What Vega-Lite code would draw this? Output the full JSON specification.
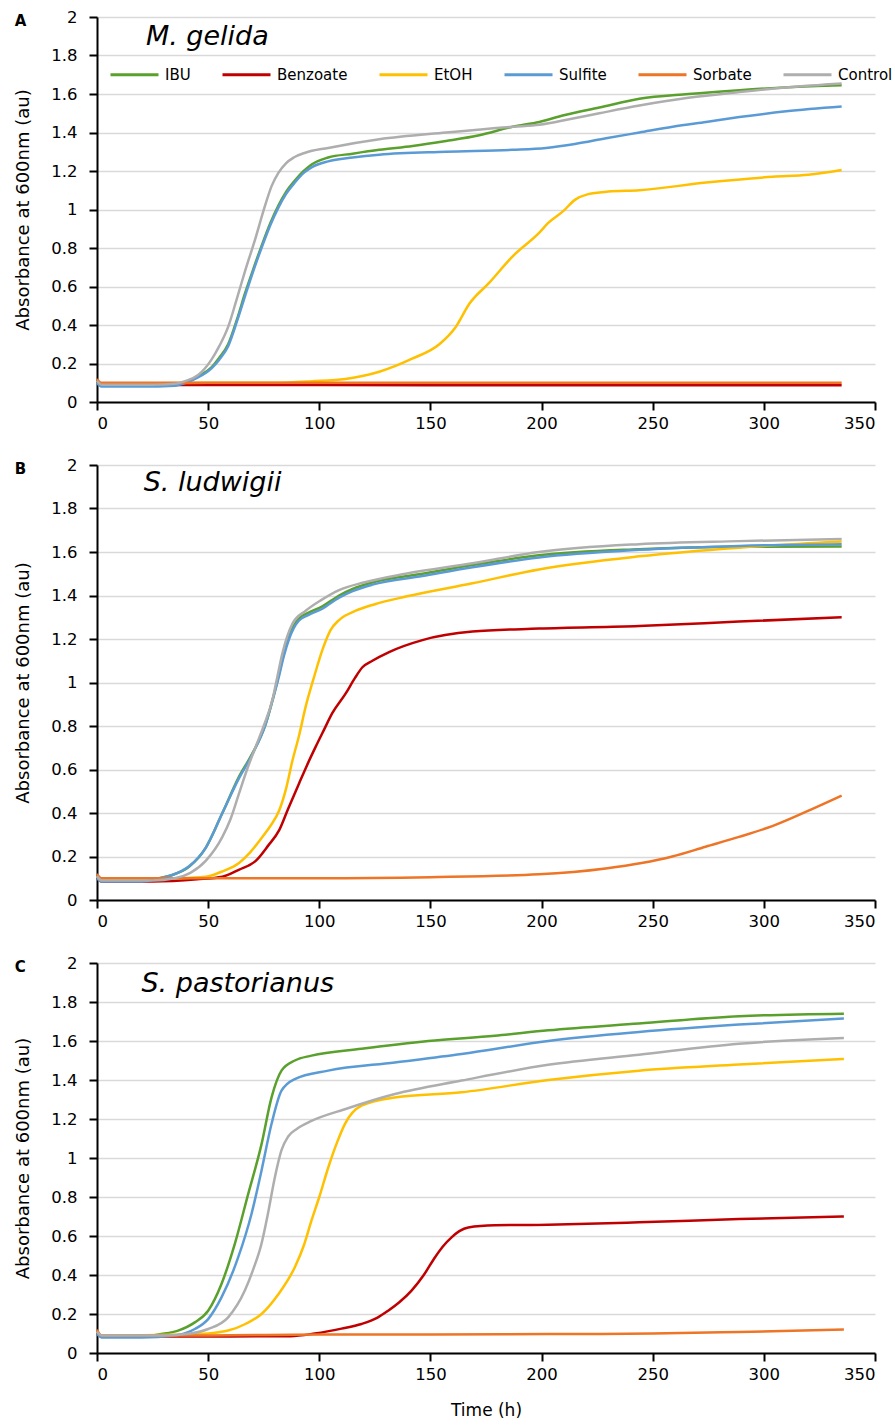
{
"$schema": "https://vega.github.io/schema/vega-lite/v6.json",
"background": "white",
"padding": {"left": 14, "top": 9, "right": 2, "bottom": 4},
"config": {
  "font": "DejaVu Sans",
  "view": {"stroke": null},
  "concat": {"spacing": 25},
  "axis": {"labelFont": "DejaVu Sans", "labelFontSize": 16.5, "labelColor": "#000", "labelOverlap": false, "titleFont": "DejaVu Sans", "titleFontSize": 18, "titleFontWeight": "normal", "titleColor": "#000", "domainColor": "#000", "domainWidth": 2, "tickColor": "#000", "tickWidth": 2, "tickSize": 8},
  "axisY": {"grid": true, "gridColor": "#D9D9D9", "gridWidth": 1.5, "labelPadding": 12, "titlePadding": 18},
  "axisX": {"grid": false, "labelPadding": 5},
  "title": {"font": "DejaVu Sans", "fontSize": 15, "fontWeight": "bold", "anchor": "start", "frame": "bounds", "offset": -20, "baseline": "top", "color": "#000"}
},
"datasets": {
"curves": [
{"p":"A","s":"IBU","t":0,"v":0.11},{"p":"A","s":"IBU","t":2,"v":0.085},{"p":"A","s":"IBU","t":20,"v":0.085},{"p":"A","s":"IBU","t":35,"v":0.09},{"p":"A","s":"IBU","t":40,"v":0.1},{"p":"A","s":"IBU","t":45,"v":0.13},{"p":"A","s":"IBU","t":51.5,"v":0.18},{"p":"A","s":"IBU","t":55,"v":0.23},{"p":"A","s":"IBU","t":59,"v":0.3},{"p":"A","s":"IBU","t":63,"v":0.43},{"p":"A","s":"IBU","t":66.6,"v":0.565},{"p":"A","s":"IBU","t":70,"v":0.68},{"p":"A","s":"IBU","t":74,"v":0.81},{"p":"A","s":"IBU","t":78,"v":0.93},{"p":"A","s":"IBU","t":81.6,"v":1.02},{"p":"A","s":"IBU","t":85,"v":1.09},{"p":"A","s":"IBU","t":89,"v":1.15},{"p":"A","s":"IBU","t":93,"v":1.2},{"p":"A","s":"IBU","t":96.7,"v":1.235},{"p":"A","s":"IBU","t":104,"v":1.27},{"p":"A","s":"IBU","t":115,"v":1.29},{"p":"A","s":"IBU","t":127,"v":1.31},{"p":"A","s":"IBU","t":142,"v":1.33},{"p":"A","s":"IBU","t":157,"v":1.356},{"p":"A","s":"IBU","t":172,"v":1.386},{"p":"A","s":"IBU","t":187,"v":1.43},{"p":"A","s":"IBU","t":199,"v":1.455},{"p":"A","s":"IBU","t":210,"v":1.49},{"p":"A","s":"IBU","t":226,"v":1.53},{"p":"A","s":"IBU","t":244,"v":1.575},{"p":"A","s":"IBU","t":266,"v":1.6},{"p":"A","s":"IBU","t":289,"v":1.62},{"p":"A","s":"IBU","t":311,"v":1.635},{"p":"A","s":"IBU","t":335,"v":1.645},
{"p":"A","s":"Benzoate","t":0,"v":0.11},{"p":"A","s":"Benzoate","t":2,"v":0.088},{"p":"A","s":"Benzoate","t":100,"v":0.088},{"p":"A","s":"Benzoate","t":200,"v":0.087},{"p":"A","s":"Benzoate","t":335,"v":0.087},
{"p":"A","s":"EtOH","t":0,"v":0.11},{"p":"A","s":"EtOH","t":2,"v":0.095},{"p":"A","s":"EtOH","t":50,"v":0.1},{"p":"A","s":"EtOH","t":80,"v":0.1},{"p":"A","s":"EtOH","t":96.7,"v":0.108},{"p":"A","s":"EtOH","t":111.7,"v":0.12},{"p":"A","s":"EtOH","t":127,"v":0.157},{"p":"A","s":"EtOH","t":142,"v":0.226},{"p":"A","s":"EtOH","t":154,"v":0.3},{"p":"A","s":"EtOH","t":161.4,"v":0.39},{"p":"A","s":"EtOH","t":167.5,"v":0.51},{"p":"A","s":"EtOH","t":176.5,"v":0.62},{"p":"A","s":"EtOH","t":187,"v":0.757},{"p":"A","s":"EtOH","t":199,"v":0.88},{"p":"A","s":"EtOH","t":203,"v":0.93},{"p":"A","s":"EtOH","t":209.6,"v":0.99},{"p":"A","s":"EtOH","t":215,"v":1.05},{"p":"A","s":"EtOH","t":221,"v":1.08},{"p":"A","s":"EtOH","t":230,"v":1.093},{"p":"A","s":"EtOH","t":244,"v":1.1},{"p":"A","s":"EtOH","t":274,"v":1.14},{"p":"A","s":"EtOH","t":304,"v":1.17},{"p":"A","s":"EtOH","t":320,"v":1.18},{"p":"A","s":"EtOH","t":335,"v":1.205},
{"p":"A","s":"Sulfite","t":0,"v":0.1},{"p":"A","s":"Sulfite","t":2,"v":0.08},{"p":"A","s":"Sulfite","t":20,"v":0.08},{"p":"A","s":"Sulfite","t":35,"v":0.085},{"p":"A","s":"Sulfite","t":40,"v":0.1},{"p":"A","s":"Sulfite","t":45,"v":0.125},{"p":"A","s":"Sulfite","t":51.5,"v":0.175},{"p":"A","s":"Sulfite","t":55,"v":0.22},{"p":"A","s":"Sulfite","t":59,"v":0.29},{"p":"A","s":"Sulfite","t":63,"v":0.42},{"p":"A","s":"Sulfite","t":66.6,"v":0.55},{"p":"A","s":"Sulfite","t":70,"v":0.67},{"p":"A","s":"Sulfite","t":74,"v":0.8},{"p":"A","s":"Sulfite","t":78,"v":0.92},{"p":"A","s":"Sulfite","t":81.6,"v":1.01},{"p":"A","s":"Sulfite","t":85,"v":1.08},{"p":"A","s":"Sulfite","t":89,"v":1.14},{"p":"A","s":"Sulfite","t":93,"v":1.19},{"p":"A","s":"Sulfite","t":96.7,"v":1.22},{"p":"A","s":"Sulfite","t":104,"v":1.25},{"p":"A","s":"Sulfite","t":115,"v":1.27},{"p":"A","s":"Sulfite","t":127,"v":1.285},{"p":"A","s":"Sulfite","t":157,"v":1.3},{"p":"A","s":"Sulfite","t":187,"v":1.31},{"p":"A","s":"Sulfite","t":202,"v":1.32},{"p":"A","s":"Sulfite","t":215,"v":1.34},{"p":"A","s":"Sulfite","t":229,"v":1.37},{"p":"A","s":"Sulfite","t":244,"v":1.4},{"p":"A","s":"Sulfite","t":259,"v":1.43},{"p":"A","s":"Sulfite","t":274,"v":1.455},{"p":"A","s":"Sulfite","t":289,"v":1.48},{"p":"A","s":"Sulfite","t":310,"v":1.51},{"p":"A","s":"Sulfite","t":335,"v":1.535},
{"p":"A","s":"Sorbate","t":0,"v":0.12},{"p":"A","s":"Sorbate","t":2,"v":0.1},{"p":"A","s":"Sorbate","t":100,"v":0.1},{"p":"A","s":"Sorbate","t":200,"v":0.1},{"p":"A","s":"Sorbate","t":335,"v":0.1},
{"p":"A","s":"Control","t":0,"v":0.11},{"p":"A","s":"Control","t":2,"v":0.09},{"p":"A","s":"Control","t":25,"v":0.09},{"p":"A","s":"Control","t":35,"v":0.095},{"p":"A","s":"Control","t":40,"v":0.11},{"p":"A","s":"Control","t":45.5,"v":0.14},{"p":"A","s":"Control","t":51.5,"v":0.22},{"p":"A","s":"Control","t":55,"v":0.29},{"p":"A","s":"Control","t":59,"v":0.39},{"p":"A","s":"Control","t":63,"v":0.54},{"p":"A","s":"Control","t":66.6,"v":0.68},{"p":"A","s":"Control","t":71,"v":0.84},{"p":"A","s":"Control","t":75.6,"v":1.02},{"p":"A","s":"Control","t":78.5,"v":1.12},{"p":"A","s":"Control","t":81.6,"v":1.19},{"p":"A","s":"Control","t":85,"v":1.24},{"p":"A","s":"Control","t":88.5,"v":1.27},{"p":"A","s":"Control","t":93.7,"v":1.295},{"p":"A","s":"Control","t":104,"v":1.32},{"p":"A","s":"Control","t":127,"v":1.365},{"p":"A","s":"Control","t":157,"v":1.4},{"p":"A","s":"Control","t":187,"v":1.43},{"p":"A","s":"Control","t":199,"v":1.44},{"p":"A","s":"Control","t":213,"v":1.47},{"p":"A","s":"Control","t":226,"v":1.5},{"p":"A","s":"Control","t":244,"v":1.54},{"p":"A","s":"Control","t":266,"v":1.58},{"p":"A","s":"Control","t":289,"v":1.61},{"p":"A","s":"Control","t":311,"v":1.635},{"p":"A","s":"Control","t":335,"v":1.655},

{"p":"B","s":"IBU","t":0,"v":0.11},{"p":"B","s":"IBU","t":2,"v":0.09},{"p":"B","s":"IBU","t":20,"v":0.09},{"p":"B","s":"IBU","t":28,"v":0.1},{"p":"B","s":"IBU","t":33.9,"v":0.115},{"p":"B","s":"IBU","t":41.4,"v":0.153},{"p":"B","s":"IBU","t":48.9,"v":0.24},{"p":"B","s":"IBU","t":56.4,"v":0.4},{"p":"B","s":"IBU","t":63.9,"v":0.567},{"p":"B","s":"IBU","t":69.9,"v":0.674},{"p":"B","s":"IBU","t":75.9,"v":0.81},{"p":"B","s":"IBU","t":79,"v":0.92},{"p":"B","s":"IBU","t":81.9,"v":1.04},{"p":"B","s":"IBU","t":84,"v":1.13},{"p":"B","s":"IBU","t":86.4,"v":1.21},{"p":"B","s":"IBU","t":88.5,"v":1.26},{"p":"B","s":"IBU","t":90.9,"v":1.295},{"p":"B","s":"IBU","t":95,"v":1.32},{"p":"B","s":"IBU","t":101.4,"v":1.35},{"p":"B","s":"IBU","t":108.9,"v":1.4},{"p":"B","s":"IBU","t":115,"v":1.43},{"p":"B","s":"IBU","t":123.9,"v":1.46},{"p":"B","s":"IBU","t":146.4,"v":1.5},{"p":"B","s":"IBU","t":168.9,"v":1.54},{"p":"B","s":"IBU","t":198.8,"v":1.585},{"p":"B","s":"IBU","t":243.8,"v":1.613},{"p":"B","s":"IBU","t":288.8,"v":1.624},{"p":"B","s":"IBU","t":335,"v":1.625},
{"p":"B","s":"Benzoate","t":0,"v":0.1},{"p":"B","s":"Benzoate","t":2,"v":0.085},{"p":"B","s":"Benzoate","t":25,"v":0.085},{"p":"B","s":"Benzoate","t":45,"v":0.095},{"p":"B","s":"Benzoate","t":56.4,"v":0.107},{"p":"B","s":"Benzoate","t":64,"v":0.14},{"p":"B","s":"Benzoate","t":71.4,"v":0.18},{"p":"B","s":"Benzoate","t":77,"v":0.25},{"p":"B","s":"Benzoate","t":81.9,"v":0.32},{"p":"B","s":"Benzoate","t":86,"v":0.42},{"p":"B","s":"Benzoate","t":90.9,"v":0.536},{"p":"B","s":"Benzoate","t":94.5,"v":0.62},{"p":"B","s":"Benzoate","t":98.4,"v":0.705},{"p":"B","s":"Benzoate","t":102,"v":0.78},{"p":"B","s":"Benzoate","t":105.9,"v":0.86},{"p":"B","s":"Benzoate","t":111.9,"v":0.95},{"p":"B","s":"Benzoate","t":116,"v":1.02},{"p":"B","s":"Benzoate","t":119.4,"v":1.07},{"p":"B","s":"Benzoate","t":123.9,"v":1.1},{"p":"B","s":"Benzoate","t":131.4,"v":1.14},{"p":"B","s":"Benzoate","t":146.4,"v":1.195},{"p":"B","s":"Benzoate","t":168.9,"v":1.234},{"p":"B","s":"Benzoate","t":198.8,"v":1.248},{"p":"B","s":"Benzoate","t":243.8,"v":1.26},{"p":"B","s":"Benzoate","t":288.8,"v":1.28},{"p":"B","s":"Benzoate","t":335,"v":1.3},
{"p":"B","s":"EtOH","t":0,"v":0.11},{"p":"B","s":"EtOH","t":2,"v":0.095},{"p":"B","s":"EtOH","t":35,"v":0.1},{"p":"B","s":"EtOH","t":48.9,"v":0.107},{"p":"B","s":"EtOH","t":56,"v":0.13},{"p":"B","s":"EtOH","t":63.9,"v":0.17},{"p":"B","s":"EtOH","t":69,"v":0.22},{"p":"B","s":"EtOH","t":74.4,"v":0.29},{"p":"B","s":"EtOH","t":78,"v":0.34},{"p":"B","s":"EtOH","t":81.9,"v":0.41},{"p":"B","s":"EtOH","t":85,"v":0.51},{"p":"B","s":"EtOH","t":87.9,"v":0.64},{"p":"B","s":"EtOH","t":91,"v":0.76},{"p":"B","s":"EtOH","t":93.9,"v":0.89},{"p":"B","s":"EtOH","t":97.5,"v":1.02},{"p":"B","s":"EtOH","t":101.4,"v":1.15},{"p":"B","s":"EtOH","t":105,"v":1.24},{"p":"B","s":"EtOH","t":108.9,"v":1.287},{"p":"B","s":"EtOH","t":116.4,"v":1.33},{"p":"B","s":"EtOH","t":125,"v":1.36},{"p":"B","s":"EtOH","t":138.9,"v":1.395},{"p":"B","s":"EtOH","t":168.9,"v":1.456},{"p":"B","s":"EtOH","t":198.8,"v":1.52},{"p":"B","s":"EtOH","t":243.8,"v":1.58},{"p":"B","s":"EtOH","t":288.8,"v":1.62},{"p":"B","s":"EtOH","t":335,"v":1.648},
{"p":"B","s":"Sulfite","t":0,"v":0.1},{"p":"B","s":"Sulfite","t":2,"v":0.085},{"p":"B","s":"Sulfite","t":20,"v":0.085},{"p":"B","s":"Sulfite","t":28,"v":0.1},{"p":"B","s":"Sulfite","t":33.9,"v":0.115},{"p":"B","s":"Sulfite","t":41.4,"v":0.155},{"p":"B","s":"Sulfite","t":48.9,"v":0.24},{"p":"B","s":"Sulfite","t":56.4,"v":0.4},{"p":"B","s":"Sulfite","t":63.9,"v":0.56},{"p":"B","s":"Sulfite","t":69.9,"v":0.67},{"p":"B","s":"Sulfite","t":75.9,"v":0.81},{"p":"B","s":"Sulfite","t":79,"v":0.92},{"p":"B","s":"Sulfite","t":81.9,"v":1.03},{"p":"B","s":"Sulfite","t":84,"v":1.12},{"p":"B","s":"Sulfite","t":86.4,"v":1.2},{"p":"B","s":"Sulfite","t":88.5,"v":1.25},{"p":"B","s":"Sulfite","t":90.9,"v":1.285},{"p":"B","s":"Sulfite","t":95,"v":1.31},{"p":"B","s":"Sulfite","t":101.4,"v":1.34},{"p":"B","s":"Sulfite","t":108.9,"v":1.39},{"p":"B","s":"Sulfite","t":115,"v":1.42},{"p":"B","s":"Sulfite","t":123.9,"v":1.45},{"p":"B","s":"Sulfite","t":146.4,"v":1.49},{"p":"B","s":"Sulfite","t":168.9,"v":1.53},{"p":"B","s":"Sulfite","t":198.8,"v":1.575},{"p":"B","s":"Sulfite","t":243.8,"v":1.61},{"p":"B","s":"Sulfite","t":288.8,"v":1.628},{"p":"B","s":"Sulfite","t":335,"v":1.636},
{"p":"B","s":"Sorbate","t":0,"v":0.12},{"p":"B","s":"Sorbate","t":2,"v":0.1},{"p":"B","s":"Sorbate","t":50,"v":0.1},{"p":"B","s":"Sorbate","t":100,"v":0.1},{"p":"B","s":"Sorbate","t":150,"v":0.105},{"p":"B","s":"Sorbate","t":198.8,"v":0.118},{"p":"B","s":"Sorbate","t":228.8,"v":0.145},{"p":"B","s":"Sorbate","t":245,"v":0.17},{"p":"B","s":"Sorbate","t":258.8,"v":0.2},{"p":"B","s":"Sorbate","t":273.8,"v":0.245},{"p":"B","s":"Sorbate","t":288.8,"v":0.29},{"p":"B","s":"Sorbate","t":303.8,"v":0.34},{"p":"B","s":"Sorbate","t":318.8,"v":0.405},{"p":"B","s":"Sorbate","t":335,"v":0.48},
{"p":"B","s":"Control","t":0,"v":0.11},{"p":"B","s":"Control","t":2,"v":0.09},{"p":"B","s":"Control","t":25,"v":0.09},{"p":"B","s":"Control","t":35,"v":0.1},{"p":"B","s":"Control","t":42,"v":0.125},{"p":"B","s":"Control","t":48.9,"v":0.18},{"p":"B","s":"Control","t":56.4,"v":0.29},{"p":"B","s":"Control","t":60,"v":0.37},{"p":"B","s":"Control","t":63.9,"v":0.49},{"p":"B","s":"Control","t":67.5,"v":0.6},{"p":"B","s":"Control","t":71.4,"v":0.705},{"p":"B","s":"Control","t":75,"v":0.8},{"p":"B","s":"Control","t":78.9,"v":0.92},{"p":"B","s":"Control","t":81,"v":1.02},{"p":"B","s":"Control","t":83.4,"v":1.134},{"p":"B","s":"Control","t":85.5,"v":1.21},{"p":"B","s":"Control","t":87.9,"v":1.27},{"p":"B","s":"Control","t":93.9,"v":1.33},{"p":"B","s":"Control","t":101,"v":1.38},{"p":"B","s":"Control","t":108.9,"v":1.425},{"p":"B","s":"Control","t":120,"v":1.46},{"p":"B","s":"Control","t":138.9,"v":1.5},{"p":"B","s":"Control","t":168.9,"v":1.548},{"p":"B","s":"Control","t":198.8,"v":1.6},{"p":"B","s":"Control","t":243.8,"v":1.636},{"p":"B","s":"Control","t":288.8,"v":1.65},{"p":"B","s":"Control","t":335,"v":1.66},

{"p":"C","s":"IBU","t":0,"v":0.11},{"p":"C","s":"IBU","t":2,"v":0.085},{"p":"C","s":"IBU","t":20,"v":0.085},{"p":"C","s":"IBU","t":29,"v":0.097},{"p":"C","s":"IBU","t":36.5,"v":0.115},{"p":"C","s":"IBU","t":44,"v":0.157},{"p":"C","s":"IBU","t":50,"v":0.217},{"p":"C","s":"IBU","t":56,"v":0.354},{"p":"C","s":"IBU","t":62,"v":0.56},{"p":"C","s":"IBU","t":68,"v":0.815},{"p":"C","s":"IBU","t":74,"v":1.07},{"p":"C","s":"IBU","t":78.5,"v":1.31},{"p":"C","s":"IBU","t":83,"v":1.448},{"p":"C","s":"IBU","t":89,"v":1.5},{"p":"C","s":"IBU","t":96.5,"v":1.525},{"p":"C","s":"IBU","t":119,"v":1.56},{"p":"C","s":"IBU","t":149,"v":1.6},{"p":"C","s":"IBU","t":179,"v":1.627},{"p":"C","s":"IBU","t":203,"v":1.655},{"p":"C","s":"IBU","t":243.8,"v":1.69},{"p":"C","s":"IBU","t":288.8,"v":1.727},{"p":"C","s":"IBU","t":336,"v":1.74},
{"p":"C","s":"Benzoate","t":0,"v":0.1},{"p":"C","s":"Benzoate","t":2,"v":0.085},{"p":"C","s":"Benzoate","t":60,"v":0.085},{"p":"C","s":"Benzoate","t":87,"v":0.086},{"p":"C","s":"Benzoate","t":98,"v":0.1},{"p":"C","s":"Benzoate","t":110,"v":0.125},{"p":"C","s":"Benzoate","t":119,"v":0.149},{"p":"C","s":"Benzoate","t":126,"v":0.18},{"p":"C","s":"Benzoate","t":131,"v":0.217},{"p":"C","s":"Benzoate","t":136,"v":0.26},{"p":"C","s":"Benzoate","t":141.5,"v":0.32},{"p":"C","s":"Benzoate","t":147,"v":0.4},{"p":"C","s":"Benzoate","t":152,"v":0.49},{"p":"C","s":"Benzoate","t":155.5,"v":0.545},{"p":"C","s":"Benzoate","t":159.5,"v":0.593},{"p":"C","s":"Benzoate","t":163,"v":0.625},{"p":"C","s":"Benzoate","t":167,"v":0.644},{"p":"C","s":"Benzoate","t":179,"v":0.655},{"p":"C","s":"Benzoate","t":203,"v":0.658},{"p":"C","s":"Benzoate","t":243.8,"v":0.67},{"p":"C","s":"Benzoate","t":288.8,"v":0.687},{"p":"C","s":"Benzoate","t":336,"v":0.7},
{"p":"C","s":"EtOH","t":0,"v":0.11},{"p":"C","s":"EtOH","t":2,"v":0.09},{"p":"C","s":"EtOH","t":40,"v":0.095},{"p":"C","s":"EtOH","t":50,"v":0.1},{"p":"C","s":"EtOH","t":59,"v":0.115},{"p":"C","s":"EtOH","t":67,"v":0.15},{"p":"C","s":"EtOH","t":74,"v":0.2},{"p":"C","s":"EtOH","t":81.5,"v":0.3},{"p":"C","s":"EtOH","t":89,"v":0.44},{"p":"C","s":"EtOH","t":93,"v":0.55},{"p":"C","s":"EtOH","t":96.5,"v":0.68},{"p":"C","s":"EtOH","t":100,"v":0.8},{"p":"C","s":"EtOH","t":104,"v":0.95},{"p":"C","s":"EtOH","t":108,"v":1.08},{"p":"C","s":"EtOH","t":111.5,"v":1.174},{"p":"C","s":"EtOH","t":119,"v":1.268},{"p":"C","s":"EtOH","t":134,"v":1.31},{"p":"C","s":"EtOH","t":164,"v":1.337},{"p":"C","s":"EtOH","t":203,"v":1.4},{"p":"C","s":"EtOH","t":243.8,"v":1.448},{"p":"C","s":"EtOH","t":288.8,"v":1.479},{"p":"C","s":"EtOH","t":336,"v":1.508},
{"p":"C","s":"Sulfite","t":0,"v":0.1},{"p":"C","s":"Sulfite","t":2,"v":0.08},{"p":"C","s":"Sulfite","t":20,"v":0.08},{"p":"C","s":"Sulfite","t":35,"v":0.09},{"p":"C","s":"Sulfite","t":44,"v":0.123},{"p":"C","s":"Sulfite","t":50,"v":0.174},{"p":"C","s":"Sulfite","t":56,"v":0.285},{"p":"C","s":"Sulfite","t":63.5,"v":0.49},{"p":"C","s":"Sulfite","t":69.5,"v":0.713},{"p":"C","s":"Sulfite","t":74,"v":0.935},{"p":"C","s":"Sulfite","t":78.5,"v":1.174},{"p":"C","s":"Sulfite","t":83,"v":1.345},{"p":"C","s":"Sulfite","t":89,"v":1.405},{"p":"C","s":"Sulfite","t":104,"v":1.448},{"p":"C","s":"Sulfite","t":134,"v":1.49},{"p":"C","s":"Sulfite","t":164,"v":1.533},{"p":"C","s":"Sulfite","t":203,"v":1.6},{"p":"C","s":"Sulfite","t":243.8,"v":1.646},{"p":"C","s":"Sulfite","t":288.8,"v":1.684},{"p":"C","s":"Sulfite","t":336,"v":1.715},
{"p":"C","s":"Sorbate","t":0,"v":0.12},{"p":"C","s":"Sorbate","t":2,"v":0.09},{"p":"C","s":"Sorbate","t":50,"v":0.09},{"p":"C","s":"Sorbate","t":100,"v":0.095},{"p":"C","s":"Sorbate","t":150,"v":0.095},{"p":"C","s":"Sorbate","t":203,"v":0.097},{"p":"C","s":"Sorbate","t":250,"v":0.1},{"p":"C","s":"Sorbate","t":288.8,"v":0.108},{"p":"C","s":"Sorbate","t":336,"v":0.12},
{"p":"C","s":"Control","t":0,"v":0.11},{"p":"C","s":"Control","t":2,"v":0.09},{"p":"C","s":"Control","t":30,"v":0.09},{"p":"C","s":"Control","t":42,"v":0.1},{"p":"C","s":"Control","t":50,"v":0.123},{"p":"C","s":"Control","t":59,"v":0.183},{"p":"C","s":"Control","t":66.5,"v":0.32},{"p":"C","s":"Control","t":70,"v":0.42},{"p":"C","s":"Control","t":74,"v":0.56},{"p":"C","s":"Control","t":77,"v":0.72},{"p":"C","s":"Control","t":80,"v":0.9},{"p":"C","s":"Control","t":83,"v":1.04},{"p":"C","s":"Control","t":86,"v":1.11},{"p":"C","s":"Control","t":90,"v":1.15},{"p":"C","s":"Control","t":96.5,"v":1.19},{"p":"C","s":"Control","t":111.5,"v":1.25},{"p":"C","s":"Control","t":134,"v":1.328},{"p":"C","s":"Control","t":164,"v":1.397},{"p":"C","s":"Control","t":203,"v":1.478},{"p":"C","s":"Control","t":243.8,"v":1.53},{"p":"C","s":"Control","t":288.8,"v":1.586},{"p":"C","s":"Control","t":336,"v":1.615}
]
},
"vconcat": [
{
  "title": {"text": "A"},
  "width": 778, "height": 385,
  "layer": [
    {
      "data": {"name": "curves"},
      "transform": [{"filter": "datum.p === 'A'"}],
      "mark": {"type": "line", "strokeWidth": 2.5, "interpolate": "monotone"},
      "encoding": {
        "x": {"field": "t", "type": "quantitative", "scale": {"domain": [0, 350], "nice": false}, "axis": {"title": null, "values": [0,50,100,150,200,250,300,350]}},
        "y": {"field": "v", "type": "quantitative", "scale": {"domain": [0, 2], "nice": false}, "axis": {"title": "Absorbance at 600nm (au)", "values": [0,0.2,0.4,0.6,0.8,1,1.2,1.4,1.6,1.8,2], "format": "~g"}},
        "color": {"field": "s", "type": "nominal", "sort": null,
          "scale": {"domain": ["IBU","Benzoate","EtOH","Sulfite","Sorbate","Control"], "range": ["#5AA02C","#C00000","#FFC000","#5B9BD5","#EE7426","#AEAEAE"]},
          "legend": {"orient": "none", "legendX": 12, "legendY": 32, "direction": "horizontal", "title": null, "symbolType": "stroke", "symbolSize": 2304, "symbolStrokeWidth": 3, "labelFontSize": 15, "labelFont": "DejaVu Sans", "labelColor": "#000", "columnPadding": 25, "labelOffset": 5}}
      }
    },
    {
      "data": {"values": [{"name": "M. gelida"}]},
      "mark": {"type": "text", "font": "DejaVu Sans", "fontStyle": "italic", "fontSize": 27, "align": "left", "baseline": "alphabetic", "color": "#000"},
      "encoding": {
        "x": {"datum": 22, "type": "quantitative", "axis": {"title": null, "values": [0,50,100,150,200,250,300,350]}},
        "y": {"datum": 1.855, "type": "quantitative", "axis": {"title": "Absorbance at 600nm (au)", "values": [0,0.2,0.4,0.6,0.8,1,1.2,1.4,1.6,1.8,2], "format": "~g"}},
        "text": {"field": "name"}}
    }
  ]
},
{
  "title": {"text": "B"},
  "width": 778, "height": 435,
  "layer": [
    {
      "data": {"name": "curves"},
      "transform": [{"filter": "datum.p === 'B'"}],
      "mark": {"type": "line", "strokeWidth": 2.5, "interpolate": "monotone"},
      "encoding": {
        "x": {"field": "t", "type": "quantitative", "scale": {"domain": [0, 350], "nice": false}, "axis": {"title": null, "values": [0,50,100,150,200,250,300,350]}},
        "y": {"field": "v", "type": "quantitative", "scale": {"domain": [0, 2], "nice": false}, "axis": {"title": "Absorbance at 600nm (au)", "values": [0,0.2,0.4,0.6,0.8,1,1.2,1.4,1.6,1.8,2], "format": "~g"}},
        "color": {"field": "s", "type": "nominal", "sort": null,
          "scale": {"domain": ["IBU","Benzoate","EtOH","Sulfite","Sorbate","Control"], "range": ["#5AA02C","#C00000","#FFC000","#5B9BD5","#EE7426","#AEAEAE"]},
          "legend": null}
      }
    },
    {
      "data": {"values": [{"name": "S. ludwigii"}]},
      "mark": {"type": "text", "font": "DejaVu Sans", "fontStyle": "italic", "fontSize": 27, "align": "left", "baseline": "alphabetic", "color": "#000"},
      "encoding": {
        "x": {"datum": 21, "type": "quantitative", "axis": {"title": null, "values": [0,50,100,150,200,250,300,350]}},
        "y": {"datum": 1.88, "type": "quantitative", "axis": {"title": "Absorbance at 600nm (au)", "values": [0,0.2,0.4,0.6,0.8,1,1.2,1.4,1.6,1.8,2], "format": "~g"}},
        "text": {"field": "name"}}
    }
  ]
},
{
  "title": {"text": "C"},
  "width": 778, "height": 390,
  "layer": [
    {
      "data": {"name": "curves"},
      "transform": [{"filter": "datum.p === 'C'"}],
      "mark": {"type": "line", "strokeWidth": 2.5, "interpolate": "monotone"},
      "encoding": {
        "x": {"field": "t", "type": "quantitative", "scale": {"domain": [0, 350], "nice": false}, "axis": {"title": "Time (h)", "titleFontSize": 17, "titlePadding": 20, "values": [0,50,100,150,200,250,300,350]}},
        "y": {"field": "v", "type": "quantitative", "scale": {"domain": [0, 2], "nice": false}, "axis": {"title": "Absorbance at 600nm (au)", "values": [0,0.2,0.4,0.6,0.8,1,1.2,1.4,1.6,1.8,2], "format": "~g"}},
        "color": {"field": "s", "type": "nominal", "sort": null,
          "scale": {"domain": ["IBU","Benzoate","EtOH","Sulfite","Sorbate","Control"], "range": ["#5AA02C","#C00000","#FFC000","#5B9BD5","#EE7426","#AEAEAE"]},
          "legend": null}
      }
    },
    {
      "data": {"values": [{"name": "S. pastorianus"}]},
      "mark": {"type": "text", "font": "DejaVu Sans", "fontStyle": "italic", "fontSize": 27, "align": "left", "baseline": "alphabetic", "color": "#000"},
      "encoding": {
        "x": {"datum": 20, "type": "quantitative", "axis": {"title": "Time (h)", "titleFontSize": 17, "titlePadding": 20, "values": [0,50,100,150,200,250,300,350]}},
        "y": {"datum": 1.85, "type": "quantitative", "axis": {"title": "Absorbance at 600nm (au)", "values": [0,0.2,0.4,0.6,0.8,1,1.2,1.4,1.6,1.8,2], "format": "~g"}},
        "text": {"field": "name"}}
    }
  ]
}
],
"resolve": {"legend": {"color": "independent"}}
}
